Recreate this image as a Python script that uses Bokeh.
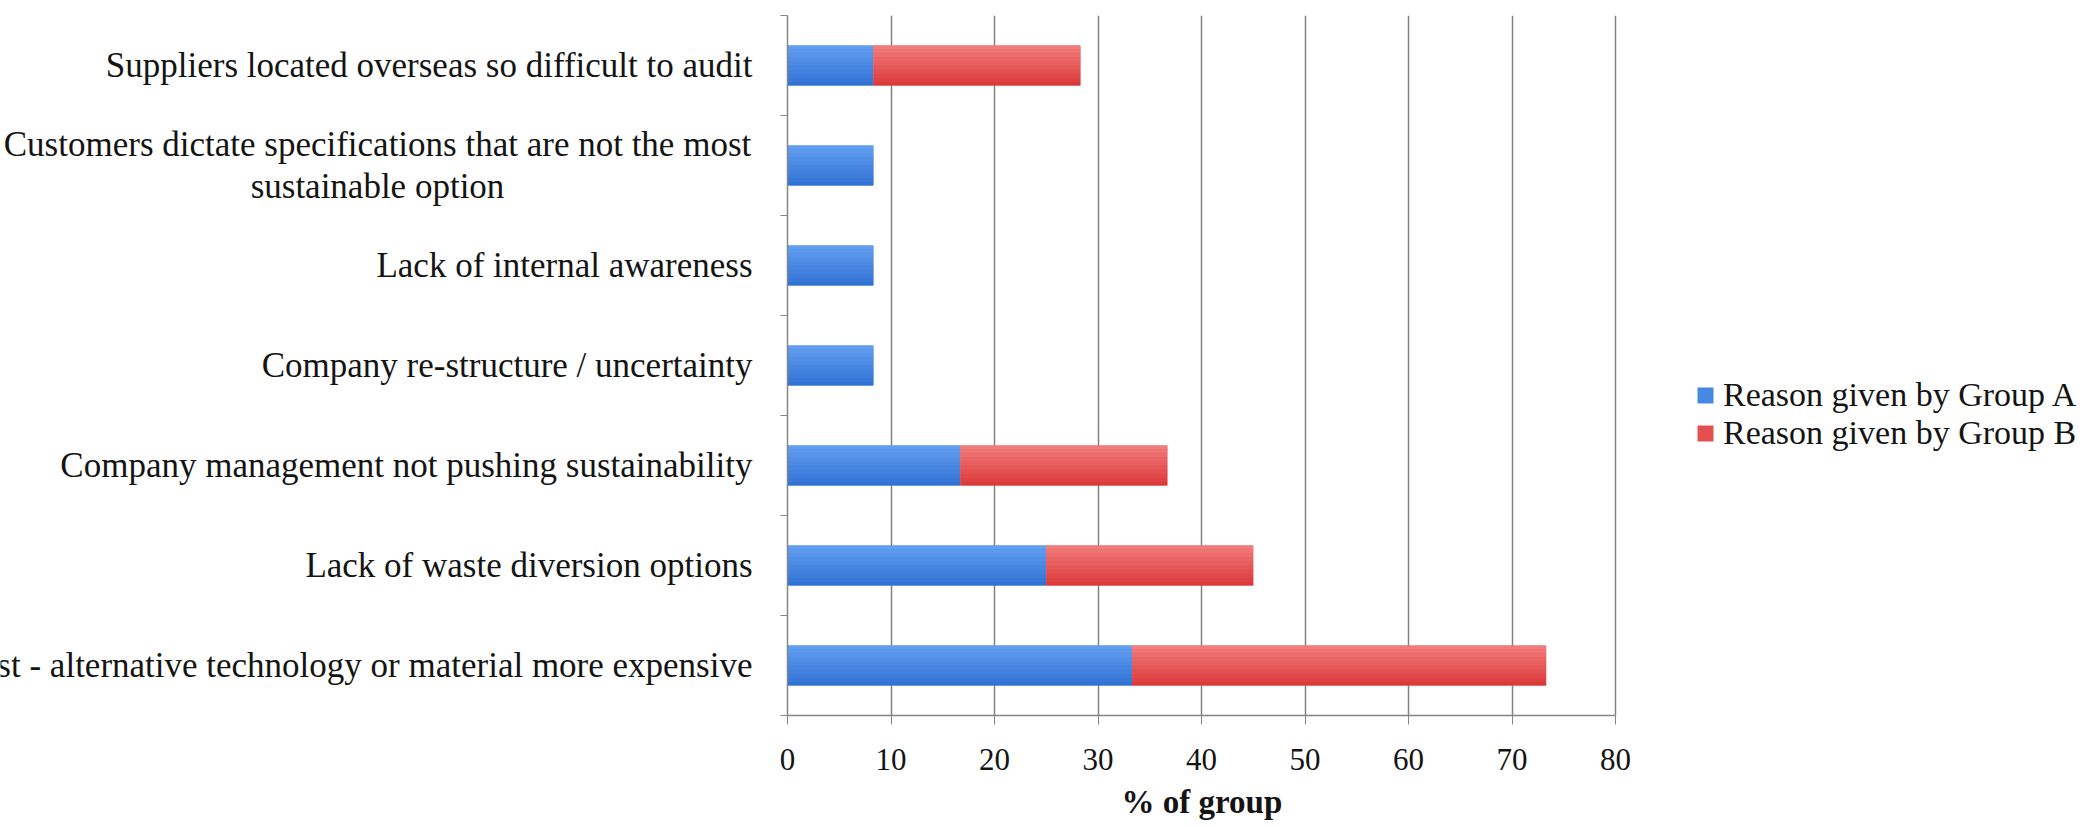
from bokeh.plotting import figure
from bokeh.models import Range1d, FixedTicker, Legend, LegendItem, ColumnDataSource, Title
from bokeh.layouts import row
from bokeh.embed import file_html
from bokeh.resources import INLINE
from bokeh.core.properties import value

# ---- data -------------------------------------------------------------
categories = [
    "Cost - alternative technology or material more expensive",
    "Lack of waste diversion options",
    "Company management not pushing sustainability",
    "Company re-structure / uncertainty",
    "Lack of internal awareness",
    "Customers dictate specifications that are not the most\nsustainable option",
    "Suppliers located overseas so difficult to audit",
]
group_a = [33.3, 25.0, 16.7, 8.3, 8.3, 8.3, 8.3]
group_b = [40.0, 20.0, 20.0, 0.0, 0.0, 0.0, 20.0]
series_names = ["Reason given by Group A", "Reason given by Group B"]
x_ticks = [0, 10, 20, 30, 40, 50, 60, 70, 80]
x_title = "% of group"

# ---- layout / style ----------------------------------------------------
W, H = 2084, 828
LABEL_W = 767          # width of the category-label strip
TOP, BOTTOM = 15, 112  # borders above / below the plotting frame
MAIN_LEFT = 20
AXIS_PX = 828          # on-screen length of the 0..80 value axis
TITLE_W = 160          # approximate rendered width of the axis title
LABEL_RIGHT = 752      # right edge of single-line category labels
WRAP_CENTER = 377      # centre of wrapped category labels
LEGEND_AT = (908, 263)
BAR_H = 0.4
STRIPS = 10            # bands used to shade each bar top-to-bottom
SERIF = "Liberation Serif"
TEXT = "#141414"
AXIS = "#858585"
BLUE, BLUE_TOP, BLUE_BOTTOM = "#4788E0", (98, 158, 240), (50, 114, 212)
RED, RED_TOP, RED_BOTTOM = "#E45050", (242, 124, 124), (218, 58, 58)

n = len(categories)
ys = [i + 0.5 for i in range(n)]
b_right = [a + b for a, b in zip(group_a, group_b)]
y_range = Range1d(0, n)

# the frame runs on to the right edge so the legend sits inside it;
# the axis itself is bounded to 0..80
main_w = W - LABEL_W
frame_w = main_w - MAIN_LEFT
x_max = x_ticks[-1] * frame_w / AXIS_PX

# ---- main chart --------------------------------------------------------
p = figure(width=main_w, height=H, x_range=Range1d(0, x_max), y_range=y_range,
           output_backend="svg", toolbar_location=None,
           min_border_left=MAIN_LEFT, min_border_right=0,
           min_border_top=TOP, min_border_bottom=BOTTOM)
p.outline_line_color = None
p.background_fill_color = "white"
p.ygrid.visible = False
p.xgrid.ticker = FixedTicker(ticks=x_ticks[1:])
p.xgrid.grid_line_color = "#808080"
p.xgrid.grid_line_width = 1.5

xa = p.xaxis[0]
xa.ticker = FixedTicker(ticks=x_ticks)
xa.bounds = (x_ticks[0], x_ticks[-1])
xa.axis_line_color = AXIS
xa.axis_line_width = 1.5
xa.major_tick_line_color = AXIS
xa.major_tick_out = 9
xa.major_tick_in = 0
xa.minor_tick_line_color = None
xa.major_label_standoff = 24
xa.major_label_text_font = SERIF
xa.major_label_text_font_size = "31px"
xa.major_label_text_color = TEXT

# axis title, centred under the 0..80 span of the axis
p.add_layout(Title(text=x_title, align="left", offset=(AXIS_PX - TITLE_W) / 2,
                   standoff=18, text_font=SERIF, text_font_style="bold",
                   text_font_size="33px", text_color=TEXT), "below")

ya = p.yaxis[0]
ya.ticker = FixedTicker(ticks=list(range(n + 1)))
ya.major_label_overrides = {i: "" for i in range(n + 1)}
ya.major_label_standoff = 0
ya.axis_line_color = AXIS
ya.axis_line_width = 1.5
ya.major_tick_line_color = AXIS
ya.major_tick_out = 7
ya.major_tick_in = 0
ya.minor_tick_line_color = None

src = ColumnDataSource(dict(y=ys, a=group_a, b=b_right, zero=[0] * n))


def mix(c0, c1, t):
    return "#%02x%02x%02x" % tuple(round(u + (v - u) * t) for u, v in zip(c0, c1))


def shaded_bar(left, right, base, top, bottom):
    r = p.hbar(y="y", left=left, right=right, height=BAR_H, source=src,
               fill_color=base, line_color=None)
    step = BAR_H / STRIPS
    for k in range(STRIPS):
        off = -BAR_H / 2 + (k + 0.5) * step
        p.hbar(y=[y + off for y in ys], left=src.data[left], right=src.data[right],
               height=step * 1.05, fill_color=mix(bottom, top, k / (STRIPS - 1)),
               line_color=None)
    return r


r_a = shaded_bar("zero", "a", BLUE, BLUE_TOP, BLUE_BOTTOM)
r_b = shaded_bar("a", "b", RED, RED_TOP, RED_BOTTOM)

legend = Legend(items=[LegendItem(label=series_names[0], renderers=[r_a]),
                       LegendItem(label=series_names[1], renderers=[r_b])],
                location=LEGEND_AT, orientation="vertical",
                label_text_font=SERIF, label_text_font_size="34px", label_text_color=TEXT,
                glyph_width=20, glyph_height=20, label_standoff=8, label_height=38,
                spacing=0, padding=0, margin=0,
                border_line_color=None, background_fill_alpha=0)
p.add_layout(legend)

# ---- category labels ---------------------------------------------------
lab = figure(width=LABEL_W, height=H, x_range=Range1d(0, LABEL_W), y_range=y_range,
             output_backend="svg", toolbar_location=None,
             x_axis_type=None, y_axis_type=None,
             min_border_left=0, min_border_right=0,
             min_border_top=TOP, min_border_bottom=BOTTOM)
lab.outline_line_color = None
lab.grid.visible = False

single = [(c, y) for c, y in zip(categories, ys) if "\n" not in c]
wrapped = [(c, y) for c, y in zip(categories, ys) if "\n" in c]
common = dict(text_baseline="middle", text_font=value(SERIF), text_font_size="35px",
              text_color=TEXT, text_line_height=1.1)
lab.text(x=[LABEL_RIGHT] * len(single), y=[y for _, y in single],
         text=[c for c, _ in single], text_align="right", **common)
lab.text(x=[WRAP_CENTER] * len(wrapped), y=[y for _, y in wrapped],
         text=[c for c, _ in wrapped], text_align="center", **common)

layout = row(lab, p)
open("out.html", "w").write(file_html(layout, INLINE))
